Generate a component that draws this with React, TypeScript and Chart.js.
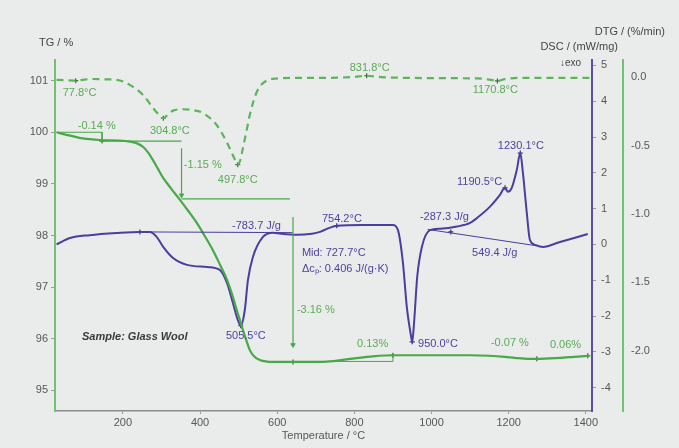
import React, { useEffect, useRef } from 'react';
import { Chart, registerables } from 'chart.js';

Chart.register(...registerables);

// ---- axis ticks ----
const TEMP_TICKS = [200, 400, 600, 800, 1000, 1200, 1400];
const TG_TICKS = [95, 96, 97, 98, 99, 100, 101];
const DSC_TICKS = [-4, -3, -2, -1, 0, 1, 2, 3, 4, 5];
const DTG_TICKS = [-2.0, -1.5, -1.0, -0.5, 0.0];

// ---- TG curve (%), temperature in °C ----
const TG_T = [28, 60, 96, 140, 190, 218, 235, 252, 265, 278, 291, 304, 326, 348, 370, 392, 413, 433, 452, 470, 483, 495, 503, 511, 520, 529, 540, 555, 570, 589, 620, 660, 700, 737, 770, 801, 848, 905, 960, 1048, 1100, 1151, 1190, 1216, 1250, 1273, 1333, 1370, 1410];
const TG_V = [100.0, 99.94, 99.88, 99.85, 99.84, 99.82, 99.79, 99.72, 99.61, 99.46, 99.29, 99.12, 98.9, 98.69, 98.47, 98.24, 97.98, 97.72, 97.43, 97.14, 96.86, 96.56, 96.37, 96.17, 95.97, 95.78, 95.66, 95.59, 95.56, 95.55, 95.55, 95.55, 95.55, 95.56, 95.59, 95.62, 95.66, 95.68, 95.68, 95.68, 95.68, 95.67, 95.65, 95.63, 95.61, 95.61, 95.63, 95.65, 95.67];

// ---- DTG curve (%/min) ----
const DTG_T = [28, 50, 78, 100, 122, 150, 184, 218, 252, 278, 295, 305, 318, 330, 356, 380, 407, 443, 469, 490, 498, 505, 511, 520, 529, 547, 573, 600, 650, 700, 760, 800, 832, 870, 950, 1050, 1120, 1150, 1171, 1190, 1230, 1300, 1410];
const DTG_V = [-0.02, -0.022, -0.026, -0.018, -0.014, -0.016, -0.02, -0.057, -0.13, -0.225, -0.28, -0.3, -0.27, -0.245, -0.235, -0.24, -0.262, -0.35, -0.474, -0.6, -0.64, -0.6, -0.52, -0.4, -0.276, -0.109, -0.025, -0.01, -0.006, -0.006, -0.004, 0.002, 0.01, 0.0, -0.006, -0.008, -0.01, -0.018, -0.028, -0.015, -0.006, -0.006, -0.006];

// ---- DSC curve (mW/mg) ----
const DSC_T = [28, 63, 114, 184, 244, 270, 287, 304, 330, 366, 418, 451, 470, 485, 498, 505.5, 516, 524, 537, 563, 589, 610, 651, 690, 711, 737, 755, 822, 900, 913, 926, 936, 946, 950, 954, 963, 975, 996, 1022, 1066, 1100, 1118, 1151, 1177, 1190.5, 1198, 1208, 1221, 1230.1, 1237, 1247, 1255, 1268, 1289, 1333, 1405];
const DSC_V = [0.0, 0.18, 0.26, 0.32, 0.35, 0.35, 0.22, -0.06, -0.38, -0.57, -0.63, -0.71, -1.08, -1.63, -2.11, -2.27, -1.83, -1.0, -0.35, 0.21, 0.33, 0.3, 0.27, 0.3, 0.35, 0.47, 0.52, 0.54, 0.54, 0.4, -0.52, -1.75, -2.5, -2.72, -2.3, -0.9, -0.07, 0.4, 0.44, 0.5, 0.6, 0.74, 1.05, 1.38, 1.58, 1.47, 1.58, 2.08, 2.55, 1.99, 0.88, 0.13, -0.01, -0.07, 0.07, 0.29];

// ---- evaluation construction lines (TG) ----
const TG_STEP1_T = [28, 146, 146];
const TG_STEP1_V = [100.0, 100.0, 99.81];
const TG_REF2_T = [140, 352];
const TG_REF2_V = [99.83, 99.83];
const TG_ARROW1_T = [352, 352];
const TG_ARROW1_V = [99.69, 98.78];
const TG_REF3_T = [352, 633];
const TG_REF3_V = [98.71, 98.71];
const TG_ARROW2_T = [641, 641];
const TG_ARROW2_V = [98.36, 95.88];
const TG_REF4_T = [641, 900, 900];
const TG_REF4_V = [95.56, 95.56, 95.68];

// ---- DSC integration baselines ----
const DSC_BASE1_T = [244, 640];
const DSC_BASE1_V = [0.35, 0.33];
const DSC_BASE2_T = [990, 1268];
const DSC_BASE2_V = [0.42, -0.03];

// ---- evaluation markers ----
const DTG_MARK_T = [77.8, 304.8, 497.8, 831.8, 1170.8];
const DTG_MARK_V = [-0.026, -0.3, -0.64, 0.01, -0.028];
const DSC_MARK_T = [244, 505.5, 754.2, 950.0, 1050, 1190.5, 1230.1];
const DSC_MARK_V = [0.35, -2.27, 0.52, -2.72, 0.35, 1.58, 2.55];
const TG_MARK_T = [146, 641, 900, 1273, 1405];
const TG_MARK_V = [99.83, 95.55, 95.68, 95.61, 95.67];

// ---- labels (text, temperature, value, axis) ----
const LABEL_TEXT = ['77.8°C', '304.8°C', '497.8°C', '831.8°C', '1170.8°C', '-0.14 %', '-1.15 %', '-3.16 %', '0.13%', '-0.07 %', '0.06%', '-783.7 J/g', '754.2°C', 'Mid: 727.7°C', 'Δcₚ: 0.406 J/(g·K)', '505.5°C', '-287.3 J/g', '1190.5°C', '1230.1°C', '549.4 J/g', '950.0°C'];
const LABEL_T = [44, 270, 446, 788, 1107, 83, 358, 651, 807, 1154, 1307, 483, 716, 664, 664, 467, 970, 1066, 1172, 1105, 965];
const LABEL_V = [-0.116, -0.393, -0.751, 0.067, -0.094, 100.12, 99.37, 96.56, 95.9, 95.92, 95.88, 0.516, 0.71, -0.238, -0.685, -2.555, 0.767, 1.744, 2.749, -0.238, -2.78];
const LABEL_AXIS = ['dtg', 'dtg', 'dtg', 'dtg', 'dtg', 'tg', 'tg', 'tg', 'tg', 'tg', 'tg', 'dsc', 'dsc', 'dsc', 'dsc', 'dsc', 'dsc', 'dsc', 'dsc', 'dsc', 'dsc'];

const SAMPLE_TEXT = 'Sample: Glass Wool';
const SAMPLE_T = 94;
const SAMPLE_V = 96.03;

const GREEN = '#47a947';
const GREEN_AXIS = '#72c072';
const GREEN_DASH = '#5db55a';
const GREEN_TEXT = '#5aab55';
const PURPLE = '#4a3e9e';
const PURPLE_TEXT = '#4e42a0';
const GRAY_TEXT = '#575757';
const BG = '#eaebeb';
const FONT = '"Liberation Sans", Arial, sans-serif';

const pts = (t: number[], v: number[]) => t.map((x, i) => ({ x, y: v[i] }));

const lineDs = (t: number[], v: number[], axis: string, color: string, width: number, extra: any = {}) => ({
  type: 'line',
  data: pts(t, v),
  xAxisID: 'x',
  yAxisID: axis,
  borderColor: color,
  backgroundColor: color,
  borderWidth: width,
  pointRadius: 0,
  fill: false,
  ...extra,
});

const arrowDs = (t: number[], v: number[]) =>
  lineDs(t, v, 'tg', GREEN, 1.2, {
    pointStyle: 'triangle',
    pointRotation: 180,
    pointRadius: (c: any) => (c.dataIndex === 1 ? 2.5 : 0),
    pointBorderWidth: 1,
  });

const markDs = (t: number[], v: number[], axis: string, color: string) => ({
  type: 'scatter',
  data: pts(t, v),
  xAxisID: 'x',
  yAxisID: axis,
  showLine: false,
  pointStyle: 'cross',
  pointRadius: 2.5,
  pointBorderWidth: 1.2,
  borderColor: color,
  backgroundColor: color,
});

const annotPlugin = {
  id: 'annot',
  beforeDraw(chart: any) {
    const ctx = chart.ctx;
    ctx.save();
    ctx.fillStyle = BG;
    ctx.fillRect(0, 0, chart.width, chart.height);
    ctx.restore();
  },
  afterDraw(chart: any) {
    const ctx = chart.ctx;
    const xs = chart.scales.x;
    const area = chart.chartArea;
    ctx.save();
    ctx.textBaseline = 'middle';
    ctx.textAlign = 'left';
    ctx.font = `11px ${FONT}`;
    LABEL_TEXT.forEach((txt, i) => {
      const ys = chart.scales[LABEL_AXIS[i]];
      ctx.fillStyle = LABEL_AXIS[i] === 'dsc' ? PURPLE_TEXT : GREEN_TEXT;
      ctx.fillText(txt, xs.getPixelForValue(LABEL_T[i]), ys.getPixelForValue(LABEL_V[i]));
    });
    ctx.font = `italic bold 11px ${FONT}`;
    ctx.fillStyle = '#3a3a3a';
    ctx.fillText(SAMPLE_TEXT, xs.getPixelForValue(SAMPLE_T), chart.scales.tg.getPixelForValue(SAMPLE_V));

    // axis titles
    ctx.font = `11px ${FONT}`;
    ctx.fillStyle = '#454545';
    ctx.textAlign = 'left';
    ctx.fillText('TG / %', area.left - 16, area.top - 17);
    ctx.textAlign = 'right';
    const dtg = chart.scales.dtg;
    const dsc = chart.scales.dsc;
    ctx.fillText('DTG / (%/min)', dtg.right - 14, area.top - 28);
    ctx.fillText('DSC / (mW/mg)', dsc.right - 5, area.top - 13);
    ctx.font = `10px ${FONT}`;
    ctx.fillText('↓exo', dsc.left - 11, area.top + 3);
    ctx.restore();
  },
};

export default function App() {
  const ref = useRef<HTMLCanvasElement | null>(null);

  useEffect(() => {
    document.body.style.margin = '0';
    Chart.defaults.font.family = FONT;
    Chart.defaults.font.size = 11;
    const setTicks = (list: number[]) => (scale: any) => {
      scale.ticks = list.map((value) => ({ value }));
    };
    const chart = new Chart(ref.current as HTMLCanvasElement, {
      type: 'line',
      data: {
        datasets: [
          lineDs(TG_STEP1_T, TG_STEP1_V, 'tg', GREEN, 1),
          lineDs(TG_REF2_T, TG_REF2_V, 'tg', GREEN, 1.2),
          arrowDs(TG_ARROW1_T, TG_ARROW1_V),
          lineDs(TG_REF3_T, TG_REF3_V, 'tg', GREEN, 1.2),
          arrowDs(TG_ARROW2_T, TG_ARROW2_V),
          lineDs(TG_REF4_T, TG_REF4_V, 'tg', GREEN, 1),
          lineDs(DSC_BASE1_T, DSC_BASE1_V, 'dsc', PURPLE, 1),
          lineDs(DSC_BASE2_T, DSC_BASE2_V, 'dsc', PURPLE, 1),
          lineDs(DTG_T, DTG_V, 'dtg', GREEN_DASH, 2.2, { borderDash: [7, 5], cubicInterpolationMode: 'monotone' }),
          lineDs(TG_T, TG_V, 'tg', GREEN, 2.2, { cubicInterpolationMode: 'monotone' }),
          lineDs(DSC_T, DSC_V, 'dsc', PURPLE, 2, { cubicInterpolationMode: 'monotone' }),
          markDs(DTG_MARK_T, DTG_MARK_V, 'dtg', '#3d6b3d'),
          markDs(DSC_MARK_T, DSC_MARK_V, 'dsc', '#3a3080'),
          markDs(TG_MARK_T, TG_MARK_V, 'tg', '#2f6a2f'),
        ] as any,
      },
      options: {
        animation: false,
        responsive: true,
        maintainAspectRatio: false,
        layout: { padding: { top: 60, left: 0, right: 0, bottom: 0 } },
        plugins: { legend: { display: false }, tooltip: { enabled: false }, title: { display: false } },
        scales: {
          x: {
            type: 'linear',
            position: 'bottom',
            min: 24,
            max: 1416,
            afterBuildTicks: setTicks(TEMP_TICKS),
            afterFit: (s: any) => { s.height = 37; },
            border: { display: true, color: '#8c8c8c', width: 1.5 },
            grid: { display: true, drawOnChartArea: false, drawTicks: true, tickLength: 3, color: '#9a9a9a' },
            ticks: { color: GRAY_TEXT, padding: 2, maxRotation: 0, font: { size: 11 }, callback: (v: any) => String(v) },
            title: { display: true, text: 'Temperature / °C', color: GRAY_TEXT, padding: { top: 0, bottom: 5 }, font: { size: 11 } },
          },
          tg: {
            type: 'linear',
            position: 'left',
            min: 94.6,
            max: 101.4,
            afterBuildTicks: setTicks(TG_TICKS),
            afterFit: (s: any) => { s.width = 55; },
            border: { display: true, color: GREEN_AXIS, width: 2 },
            grid: { display: true, drawOnChartArea: false, drawTicks: true, tickLength: 4, color: '#9a9a9a' },
            ticks: { color: GRAY_TEXT, padding: 3, font: { size: 11 }, callback: (v: any) => String(v) },
          },
          dsc: {
            type: 'linear',
            position: 'right',
            weight: 0,
            min: -4.65,
            max: 5.15,
            afterBuildTicks: setTicks(DSC_TICKS),
            afterFit: (s: any) => { s.width = 31; },
            border: { display: true, color: '#5a4ca8', width: 2 },
            grid: { display: true, drawOnChartArea: false, drawTicks: true, tickLength: 4, color: '#9a9a9a' },
            ticks: { color: GRAY_TEXT, padding: 5, font: { size: 11 }, callback: (v: any) => String(v) },
          },
          dtg: {
            type: 'linear',
            position: 'right',
            weight: 1,
            min: -2.44,
            max: 0.125,
            afterBuildTicks: setTicks(DTG_TICKS),
            afterFit: (s: any) => { s.width = 56; },
            border: { display: true, color: GREEN_AXIS, width: 2 },
            grid: { display: false, drawOnChartArea: false, drawTicks: false },
            ticks: { color: GRAY_TEXT, padding: 8, font: { size: 11 }, callback: (v: any) => Number(v).toFixed(1) },
          },
        },
      } as any,
      plugins: [annotPlugin],
    });
    return () => chart.destroy();
  }, []);

  return (
    <div style={{ position: 'fixed', left: 0, top: 0, width: 679, height: 448 }}>
      <canvas ref={ref} />
    </div>
  );
}
